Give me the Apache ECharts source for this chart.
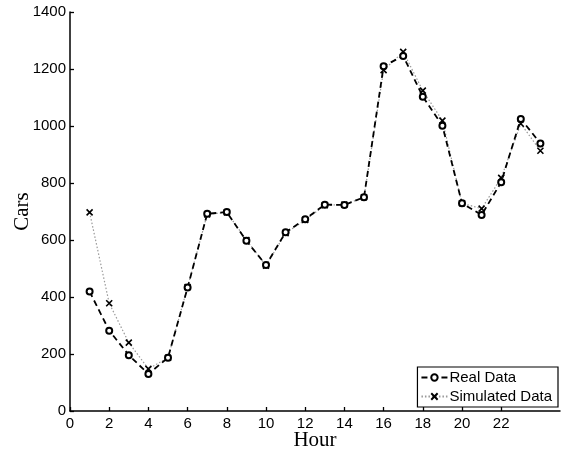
<!DOCTYPE html>
<html>
<head>
<meta charset="utf-8">
<script src="https://cdn.jsdelivr.net/npm/echarts@6/dist/echarts.min.js"></script>
<style>
  html, body { margin: 0; padding: 0; background: #fff; }
  #chart { width: 564px; height: 450px; }
</style>
</head>
<body>
<div id="chart"></div>
<script>
// Hourly car counts: measured vs simulated
const hours = [1, 2, 3, 4, 5, 6, 7, 8, 9, 10, 11, 12, 13, 14, 15, 16, 17, 18, 19, 20, 21, 22, 23, 24];
const realData = [419, 282, 196, 130, 187, 433, 692, 698, 597, 512, 627, 673, 724, 723, 750, 1210, 1246, 1103, 1001, 729, 688, 803, 1025, 939];
const simulatedData = [697, 378, 240, 148, 187, 435, 690, 697, 600, 510, 624, 670, 722, 724, 750, 1196, 1260, 1124, 1019, 729, 710, 818, 1008, 913];
const xTicks = [0, 2, 4, 6, 8, 10, 12, 14, 16, 18, 20, 22];
const yTicks = [0, 200, 400, 600, 800, 1000, 1200, 1400];

const pairs = (xs, ys) => xs.map((x, i) => [x, ys[i]]);
const crossSymbol = 'path://M0,0L10,10M10,0L0,10';
const axisFont = { fontFamily: 'Liberation Sans', fontSize: 15, color: '#000' };
const nameFont = {
  fontFamily: 'Liberation Serif', fontSize: 21, color: '#000',
  align: 'center', verticalAlign: 'middle'
};

const chart = echarts.init(document.getElementById('chart'), null, { renderer: 'canvas' });
chart.setOption({
  animation: false,
  backgroundColor: '#fff',
  grid: { left: 70, right: 4, top: 12, bottom: 39, containLabel: false, outerBoundsMode: 'none' },
  legend: {
    orient: 'vertical',
    right: 6,
    bottom: 43,
    itemWidth: 26,
    itemHeight: 8,
    itemGap: 4,
    padding: [3, 6, 3, 3],
    borderColor: '#000',
    borderWidth: 1.2,
    borderRadius: 0,
    backgroundColor: '#fff',
    textStyle: { fontFamily: 'Liberation Sans', fontSize: 15, color: '#000', padding: [0, 0, 0, -3] },
    data: ['Real Data', 'Simulated Data']
  },
  xAxis: {
    type: 'value',
    min: 0,
    max: 25,
    name: 'Hour',
    nameLocation: 'middle',
    nameGap: 29,
    nameMoveOverlap: false,
    nameTextStyle: nameFont,
    splitLine: { show: false },
    axisLine: { lineStyle: { color: '#000', width: 1.5 } },
    axisTick: { inside: true, length: 4, customValues: xTicks, lineStyle: { color: '#000', width: 1.3 } },
    axisLabel: { customValues: xTicks, margin: 5, formatter: v => String(v), ...axisFont }
  },
  yAxis: {
    type: 'value',
    min: 0,
    max: 1400,
    interval: 200,
    name: 'Cars',
    nameLocation: 'middle',
    nameGap: 48,
    nameRotate: 90,
    nameMoveOverlap: false,
    nameTextStyle: nameFont,
    splitLine: { show: false },
    axisLine: { show: true, lineStyle: { color: '#000', width: 1.5 } },
    axisTick: { show: true, inside: true, length: 4, customValues: yTicks, lineStyle: { color: '#000', width: 1.3 } },
    axisLabel: { customValues: yTicks, margin: 4, formatter: v => String(v), ...axisFont }
  },
  series: [
    {
      name: 'Simulated Data',
      type: 'line',
      data: pairs(hours, simulatedData),
      symbol: crossSymbol,
      symbolSize: 6,
      itemStyle: { color: '#000', borderColor: '#000', borderWidth: 1.6 },
      lineStyle: { color: '#999', width: 1.2, type: [1.5, 2] },
      z: 2
    },
    {
      name: 'Real Data',
      type: 'line',
      data: pairs(hours, realData),
      symbol: 'emptyCircle',
      symbolSize: 6,
      itemStyle: { color: '#000', borderColor: '#000', borderWidth: 1.5 },
      lineStyle: { color: '#000', width: 1.8, type: [6, 4] },
      z: 3
    }
  ]
});
</script>
</body>
</html>
